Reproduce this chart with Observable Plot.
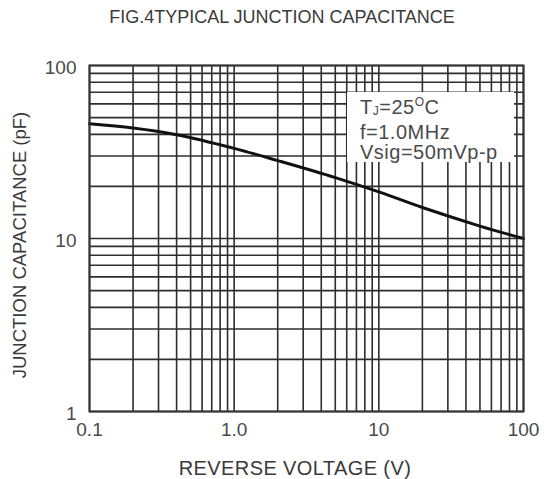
<!DOCTYPE html>
<html>
<head>
<meta charset="utf-8">
<script src="https://cdn.jsdelivr.net/npm/d3@7"></script>
<script src="https://cdn.jsdelivr.net/npm/@observablehq/plot@0.6"></script>
<style>
  html, body { margin: 0; padding: 0; background: #fff; }
  #wrap { position: relative; width: 555px; height: 479px; font-family: "Liberation Sans", Arial, sans-serif; color: #444; overflow: hidden; }
  #title { position: absolute; left: 282px; top: 17px; transform: translate(-50%, -50%); white-space: nowrap; font-size: 18px; color: #3a3a3a; letter-spacing: 0px; }
  #chart { position: absolute; left: 0; top: 40px; }
  #xlabel { position: absolute; left: 295px; top: 468px; transform: translate(-50%, -50%); white-space: nowrap; font-size: 20px; color: #3a3a3a; letter-spacing: 0.4px; }
  #ylabel { position: absolute; left: 20px; top: 245px; transform: translate(-50%, -50%) rotate(-90deg); white-space: nowrap; font-size: 18.5px; color: #3a3a3a; letter-spacing: 0px; }
  #legend { position: absolute; left: 347px; top: 92px; width: 167px; height: 70px; background: #fff; font-size: 20px; color: #4a4a4a; line-height: 20.5px; padding-left: 13px; box-sizing: border-box; padding-top: 0px; letter-spacing: 0.5px; white-space: nowrap; }
  #legend sub { font-size: 12px; vertical-align: -1px; }
  #legend sup { font-size: 12px; vertical-align: 8px; }
</style>
</head>
<body>
<div id="wrap">
  <div id="title">FIG.4TYPICAL JUNCTION CAPACITANCE</div>
  <div id="chart"></div>
  <div id="ylabel">JUNCTION CAPACITANCE (pF)</div>
  <div id="xlabel">REVERSE VOLTAGE (V)</div>
  <div id="legend">T<sub>J</sub>=25<sup>O</sup>C<br>f=1.0MHz<br>Vsig=50mVp-p</div>
</div>
<script>
// Curve readings (reverse voltage V, junction capacitance pF)
const voltage = [0.1, 0.2, 0.4, 1, 2, 5, 10, 20, 50, 100];
const capacitance = [46, 43.5, 39.8, 33.2, 28.2, 22.5, 18.6, 15.1, 11.8, 10.0];

// Log-paper grid
const xGrid = [0.1, 0.2, 0.3, 0.4, 0.5, 0.6, 0.7, 0.8, 0.9,
               1, 2, 3, 4, 5, 6, 7, 8, 9,
               10, 20, 30, 40, 50, 60, 70, 80, 90, 100];
const yGrid = [1, 2, 3, 4, 5, 6, 7, 8, 9,
               10, 20, 30, 40, 50, 60, 70, 80, 90, 100];

// Tick labels
const xTicks = [0.1, 1, 10, 100];
const xTickLabels = ["0.1", "1.0", "10", "100"];
const yTicks = [1, 10, 100];
const yTickLabels = ["1", "10", "100"];

const data = voltage.map((v, i) => ({v, c: capacitance[i]}));

const chart = Plot.plot({
  width: 555,
  height: 400,
  marginTop: 25,
  marginBottom: 29,
  marginLeft: 89,
  marginRight: 32,
  style: {fontFamily: "Liberation Sans, Arial, sans-serif", background: "#fff", color: "#444"},
  x: {type: "log", domain: [0.1, 100], axis: null},
  y: {type: "log", domain: [1, 100], axis: null},
  marks: [
    Plot.ruleX(xGrid, {stroke: "#2e2e2e", strokeWidth: 1.6}),
    Plot.ruleY(yGrid, {stroke: "#2e2e2e", strokeWidth: 1.6}),
    Plot.line(data, {x: "v", y: "c", curve: "catmull-rom", stroke: "#111", strokeWidth: 3}),
    Plot.frame({stroke: "#333", strokeWidth: 2}),
    Plot.axisX(xTicks, {tickSize: 0, tickPadding: 11, fontSize: 19, fill: "#4a4a4a",
      tickFormat: d => xTickLabels[xTicks.indexOf(d)], label: null}),
    Plot.axisY(yTicks, {tickSize: 0, tickPadding: 13, fontSize: 19, fill: "#4a4a4a", dy: 2,
      tickFormat: d => yTickLabels[yTicks.indexOf(d)], label: null})
  ]
});
document.getElementById("chart").appendChild(chart);
</script>
</body>
</html>
